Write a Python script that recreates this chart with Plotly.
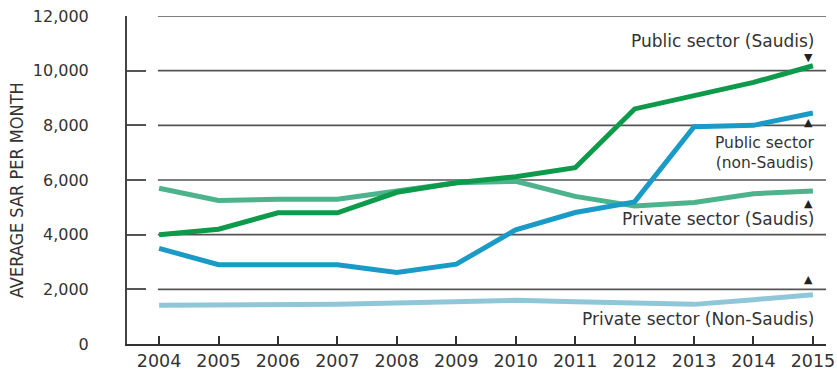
import plotly.graph_objects as go

# Average monthly wages in Saudi Arabia (SAR), by sector and nationality
years = list(range(2004, 2016))
public_saudis = [4000, 4200, 4800, 4800, 5550, 5900, 6120, 6450, 8600, 9100, 9570, 10180]
private_saudis = [5700, 5250, 5300, 5300, 5600, 5900, 5950, 5400, 5050, 5180, 5500, 5600]
public_non_saudis = [3500, 2900, 2900, 2900, 2620, 2920, 4180, 4810, 5200, 7950, 8000, 8450]
private_non_saudis = [1420, 1420, 1450, 1450, 1500, 1550, 1600, 1550, 1500, 1450, 1620, 1800]

y_ticks = [0, 2000, 4000, 6000, 8000, 10000, 12000]
y_tick_text = ["0", "2,000", "4,000", "6,000", "8,000", "10,000", "12,000"]

series = [
    ("Private sector (Non-Saudis)", private_non_saudis, "#8fc7d9"),
    ("Private sector (Saudis)", private_saudis, "#4db38c"),
    ("Public sector (non-Saudis)", public_non_saudis, "#1a9bc7"),
    ("Public sector (Saudis)", public_saudis, "#0e9a4b"),
]

TEXT = "#333333"
GRID = "#555555"
FONT = "DejaVu Sans"

fig = go.Figure()

# horizontal rules start at the first year, the short stubs at the axis are the ticks
for v in y_ticks[1:]:
    fig.add_shape(type="line", xref="x", yref="y", x0=2003.98, x1=2015.22,
                  y0=v, y1=v, line=dict(color=GRID, width=1.6), layer="below")

for name, vals, color in series:
    fig.add_trace(go.Scatter(x=years, y=vals, mode="lines", name=name,
                             line=dict(color=color, width=5), showlegend=False))

def note(text, y, size=17):
    fig.add_annotation(x=2015.04, y=y, xref="x", yref="y", text=text,
                       showarrow=False, xanchor="right", yanchor="middle",
                       align="right", borderpad=0,
                       font=dict(family=FONT, size=size, color=TEXT))

def marker(sym, y):
    fig.add_annotation(x=2014.92, y=y, xref="x", yref="y", text=sym,
                       showarrow=False, xanchor="center", yanchor="middle",
                       borderpad=0, font=dict(family=FONT, size=11, color="#222222"))

note("Public sector (Saudis)", 11100)
marker("▼", 10480)
marker("▲", 8100)
note("Public sector<br>(non-Saudis)", 6980, size=15.5)
marker("▲", 5150)
note("Private sector (Saudis)", 4560)
marker("▲", 2360)
note("Private sector (Non-Saudis)", 900)

# vertical axis title, set close to the left edge
fig.add_annotation(x=-0.157, y=0.47, xref="paper", yref="paper",
                   text="AVERAGE SAR PER MONTH", textangle=-90, showarrow=False,
                   xanchor="center", yanchor="middle",
                   font=dict(family="DejaVu Sans Condensed", size=18, color=TEXT))

fig.update_layout(
    width=837, height=371,
    margin=dict(l=127, r=11, t=16, b=27),
    paper_bgcolor="white", plot_bgcolor="white",
    font=dict(family=FONT, color=TEXT),
    xaxis=dict(
        range=[2003.46, 2015.22], tickvals=years, ticktext=[str(y) for y in years],
        showgrid=False, zeroline=False, showline=True, linecolor="#333333", linewidth=2,
        ticks="inside", ticklen=8, tickwidth=1.5, tickcolor="#333333",
        tickfont=dict(family=FONT, size=17.5, color=TEXT), automargin=False,
    ),
    yaxis=dict(
        range=[0, 12000], tickvals=y_ticks, ticktext=y_tick_text,
        showgrid=False, zeroline=False, showline=True, linecolor="#444444", linewidth=2,
        ticks="inside", ticklen=19, tickwidth=1.6, tickcolor=GRID,
        ticklabelstandoff=33, automargin=False,
        tickfont=dict(family=FONT, size=16, color=TEXT),
    ),
)

fig.write_html("out.html")
